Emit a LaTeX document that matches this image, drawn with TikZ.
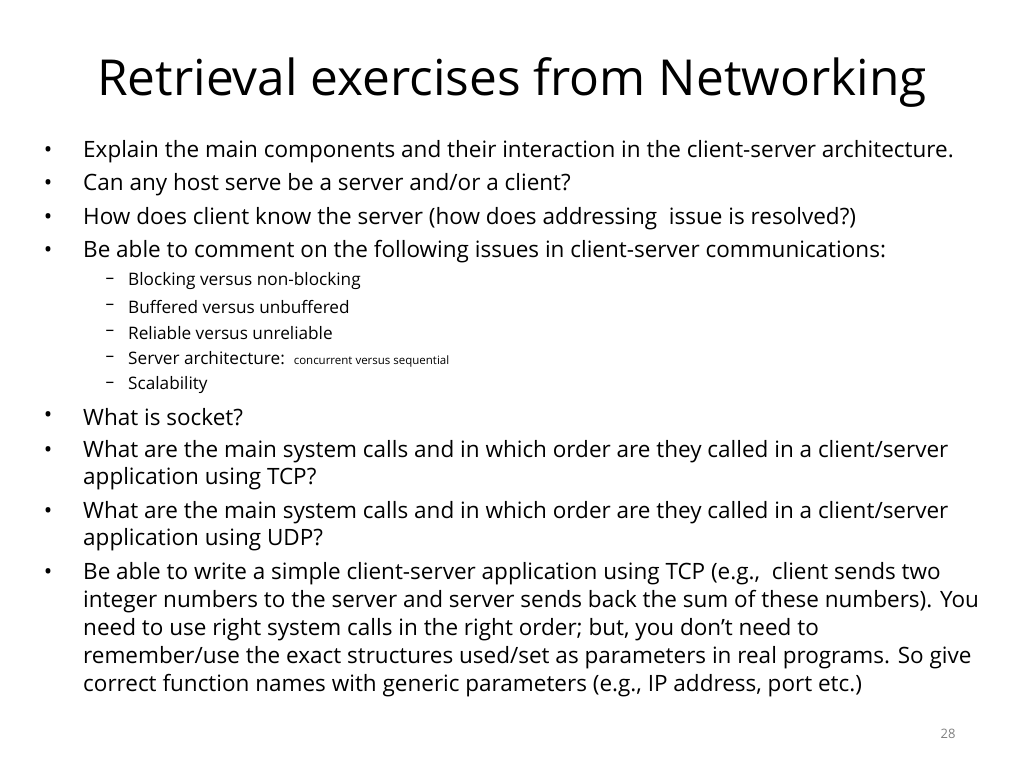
\documentclass[tikz,border=0pt]{standalone}
\usepackage{fontspec}
\setmainfont{Open Sans}
\begin{document}
\begin{tikzpicture}[x=1pt,y=-1pt,
  t/.style={anchor=west,inner sep=0pt,font=\fontsize{22.5}{26}\selectfont},
  s/.style={anchor=west,inner sep=0pt,font=\fontsize{17.2}{20}\selectfont},
  bul/.style={anchor=center,inner sep=0pt,font=\fontsize{22.5}{26}\selectfont}]
\useasboundingbox (0,0) rectangle (1024,768);
\node[inner sep=0pt,font=\fontsize{49.6}{56}\selectfont] (title) at (512,82) {Retrieval exercises from Networking};
\foreach \y in {152,185,219,252,417,452,513,574} \node[bul] at (48,\y) {•};
\node[t] (l1) at (83,152) {Explain the main components and their interaction in the client-server architecture.};
\node[t] (l2) at (83,185) {Can any host serve be a server and/or a client?};
\node[t] (l3) at (83,219) {How does client know the server (how does addressing\ \ issue is resolved?)};
\node[t] (l4) at (83,252) {Be able to comment on the following issues in client-server communications:};
\foreach \y in {281,307,333,359,385} \node[s,anchor=center] at (110,\y) {–};
\node[s] (s1) at (128,281) {Blocking versus non-blocking};
\node[s] (s2) at (128,307) {Buffered versus unbuffered};
\node[s] (s3) at (128,333) {Reliable versus unreliable};
\node[s] (s4) at (128,359) {Server architecture:\ \ {\fontsize{11.5}{14}\selectfont concurrent versus sequential}};
\node[s] (s5) at (128,385) {Scalability};
\node[t] (l5) at (83,417) {What is socket?};
\node[t] (l6) at (83,452) {What are the main system calls and in which order are they called in a client/server};
\node[t] (l6b) at (83,479) {application using TCP?};
\node[t] (l7) at (83,513) {What are the main system calls and in which order are they called in a client/server};
\node[t] (l7b) at (83,540) {application using UDP?};
\node[t] (l8) at (83,574) {Be able to write a simple client-server application using TCP (e.g.,\ \ client sends two};
\node[t] (l8b) at (83,602) {integer numbers to the server and server sends back the sum of these numbers). You};
\node[t] (l8c) at (83,630) {need to use right system calls in the right order; but, you don’t need to};
\node[t] (l8d) at (83,658) {remember/use the exact structures used/set as parameters in real programs. So give};
\node[t] (l8e) at (83,686) {correct function names with generic parameters (e.g., IP address, port etc.)};
\node[inner sep=0pt,text=gray,font=\fontsize{13}{16}\selectfont] (pg) at (948,734) {28};
\end{tikzpicture}
\end{document}
